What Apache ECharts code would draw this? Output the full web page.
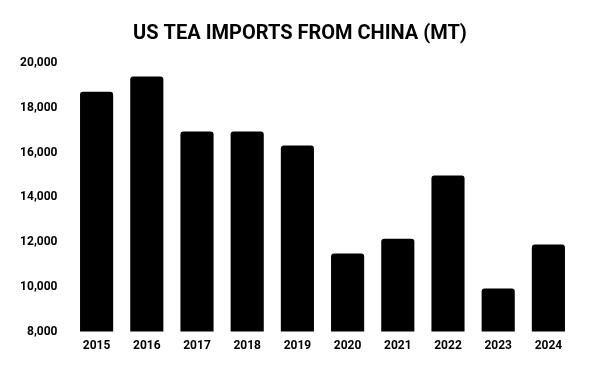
<!DOCTYPE html>
<html><head><meta charset="utf-8">
<script src="https://cdn.jsdelivr.net/npm/echarts@6/dist/echarts.min.js"></script>
<style>html,body{margin:0;padding:0;background:#fff}#c{width:600px;height:371px}</style>
</head><body><div id="c"></div>
<script>
const years = ['2015','2016','2017','2018','2019','2020','2021','2022','2023','2024'];
const imports = [18710, 19400, 16940, 16940, 16310, 11490, 12140, 14970, 9920, 11890];
const yMin = 8000, yMax = 20000, yStep = 2000;

const chart = echarts.init(document.getElementById('c'), null, {renderer:'canvas'});
chart.setOption({
  animation:false,
  backgroundColor:'#fff',
  title:{text:'US TEA IMPORTS FROM CHINA (MT)', left:'center', top:19,
    textStyle:{fontFamily:'Roboto', fontWeight:'bold', fontSize:20, color:'#000'}},
  grid:{left:71.5, right:26.5, top:63, bottom:39.5, containLabel:false},
  xAxis:{type:'category', data:years,
    axisLine:{show:false}, axisTick:{show:false},
    axisLabel:{fontFamily:'Roboto', fontWeight:'bold', fontSize:12, color:'#000', margin:8}},
  yAxis:{type:'value', min:yMin, max:yMax, interval:yStep,
    splitLine:{show:false}, axisLine:{show:false}, axisTick:{show:false},
    axisLabel:{fontFamily:'Roboto', fontWeight:'bold', fontSize:12, color:'#000', margin:14,
      formatter:v=>v.toLocaleString('en-US')}},
  series:[{type:'bar', data:imports, barWidth:'66%',
    itemStyle:{color:'#000', borderRadius:[3,3,0,0]}}]
});
</script></body></html>
